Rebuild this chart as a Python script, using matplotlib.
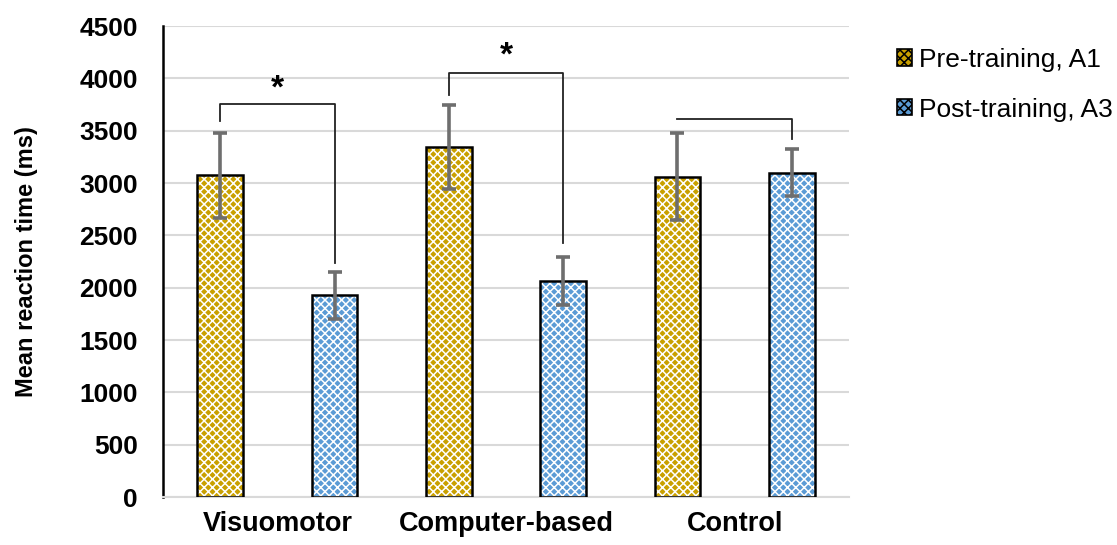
import numpy as np
import matplotlib.pyplot as plt
from matplotlib.patches import Patch

plt.rcParams['font.family'] = ['Liberation Sans', 'DejaVu Sans']
plt.rcParams['hatch.linewidth'] = 1.1

groups = ['Visuomotor', 'Computer-based', 'Control']
pre = [3075, 3345, 3060]
pre_err = [405, 405, 415]
post = [1930, 2065, 3100]
post_err = [225, 225, 225]
series_names = ['Pre-training, A1', 'Post-training, A3']
colors = ['#C9A000', '#5B9BD5']

# significance brackets: (x left, x right, top y, left end y, right end y, label)
brackets = [
    (-0.25, 0.25, 3755, 3590, 2235, '*'),
    (0.75, 1.25, 4055, 3840, 2425, '*'),
    (1.75, 2.25, 3610, 3610, 3420, ''),
]
star_y = [3900, 4210, None]

fig = plt.figure(figsize=(11.17, 5.45), dpi=100)
ax = fig.add_axes([0.146, 0.088, 0.614, 0.864])

x = np.arange(len(groups))
w = 0.2
for vals, errs, off, col in [(pre, pre_err, -0.25, colors[0]), (post, post_err, 0.25, colors[1])]:
    ax.bar(x + off, vals, w, color=col, edgecolor='white', hatch='xxxx', linewidth=0, zorder=2)
    ax.bar(x + off, vals, w, fill=False, edgecolor='black', linewidth=1.8, zorder=3)
    ax.errorbar(x + off, vals, yerr=errs, fmt='none', ecolor='#6E6E6E',
                elinewidth=2.6, capsize=5, capthick=2.6, zorder=4)

for (xl, xr, yt, yl, yr, lab), sy in zip(brackets, star_y):
    ax.plot([xl, xl, xr, xr], [yl, yt, yt, yr], color='#222222', lw=1.3, zorder=5)
    if lab:
        ax.text((xl + xr) / 2, sy, lab, ha='center', va='center', fontsize=24, fontweight='bold')

ax.set_xlim(-0.5, 2.5)
ax.set_ylim(0, 4500)
ax.set_yticks(np.arange(0, 4501, 500))
ax.set_xticks(x)
ax.set_xticklabels(groups, fontsize=19.5, fontweight='bold')
ax.tick_params(axis='y', length=0, pad=18, labelsize=19)
ax.tick_params(axis='x', length=0, pad=10)
for t in ax.get_yticklabels():
    t.set_fontweight('bold')
ax.yaxis.grid(True, color='#D9D9D9', lw=1.5, zorder=0)
ax.set_axisbelow(True)
for s in ['top', 'right']:
    ax.spines[s].set_visible(False)
ax.spines['left'].set_color('black')
ax.spines['left'].set_linewidth(1.8)
ax.spines['bottom'].set_color('#D9D9D9')
ax.spines['bottom'].set_linewidth(1.5)
ax.set_ylabel('Mean reaction time (ms)', fontsize=17, fontweight='bold', labelpad=30)

handles = [Patch(facecolor=c, edgecolor='black', hatch='xxxx', linewidth=1.2) for c in colors]
leg = fig.legend(handles, series_names, loc='upper left', bbox_to_anchor=(0.803, 0.912),
                 frameon=False, fontsize=19, handlelength=0.58, handleheight=0.58,
                 handletextpad=0.25, labelspacing=0.97, borderpad=0, borderaxespad=0)

fig.savefig('out.png', dpi=100)
